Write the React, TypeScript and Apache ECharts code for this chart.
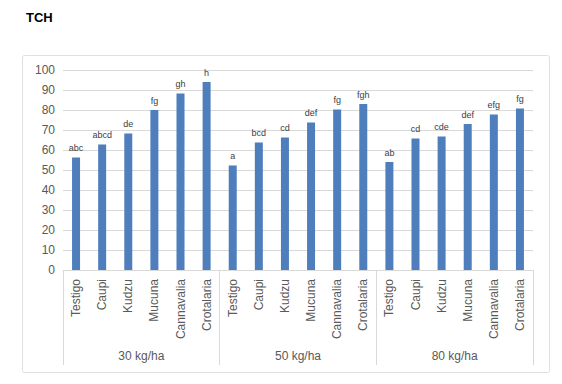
import React, { useEffect, useRef } from "react";
import * as echarts from "echarts";

const treatments = ["Testigo", "Caupi", "Kudzu", "Mucuna", "Cannavalia", "Crotalaria"];
const doses = ["30 kg/ha", "50 kg/ha", "80 kg/ha"];
const values30 = [56.2, 62.8, 68.2, 80, 88.3, 94];
const values50 = [52.2, 63.8, 66.2, 73.8, 80.2, 83];
const values80 = [54, 65.8, 66.7, 73, 77.8, 80.8];
const letters30 = ["abc", "abcd", "de", "fg", "gh", "h"];
const letters50 = ["a", "bcd", "cd", "def", "fg", "fgh"];
const letters80 = ["ab", "cd", "cde", "def", "efg", "fg"];
const yTicks = { min: 0, max: 100, interval: 10 };

export default function App() {
  const ref = useRef<HTMLDivElement>(null);
  useEffect(() => {
    if (!ref.current) return;
    const chart = echarts.init(ref.current, null, { renderer: "svg" });
    const categories = [...treatments, ...treatments, ...treatments];
    const values = [...values30, ...values50, ...values80];
    const letters = [...letters30, ...letters50, ...letters80];
    const font = "Liberation Sans, Arial, sans-serif";
    chart.setOption({
      animation: false,
      backgroundColor: "#ffffff",
      textStyle: { fontFamily: font },
      title: {
        text: "TCH",
        left: 21,
        top: 6,
        textStyle: { fontSize: 13, fontWeight: "bold", color: "#000000", fontFamily: font },
      },
      graphic: [
        {
          type: "rect",
          shape: { x: 22.5, y: 55.5, width: 527, height: 317, r: 2 },
          style: { fill: "none", stroke: "#e0e0e0", lineWidth: 1 },
          silent: true,
        },
      ],
      grid: { left: 63, right: 29, top: 70, bottom: 114 },
      xAxis: [
        {
          type: "category",
          data: categories,
          axisLine: { show: true, lineStyle: { color: "#d9d9d9" } },
          axisTick: { show: false },
          axisLabel: {
            interval: 0,
            rotate: 90,
            fontSize: 12,
            color: "#595959",
            margin: 9,
          },
        },
        {
          type: "category",
          data: doses,
          position: "bottom",
          axisLine: { show: false },
          axisTick: { show: true, length: 95, lineStyle: { color: "#d9d9d9" } },
          axisLabel: { fontSize: 12, color: "#595959", margin: 80 },
          splitLine: { show: false },
        },
      ],
      yAxis: {
        type: "value",
        min: yTicks.min,
        max: yTicks.max,
        interval: yTicks.interval,
        axisLine: { show: false },
        axisTick: { show: false },
        axisLabel: { fontSize: 12, color: "#595959", margin: 8 },
        splitLine: { lineStyle: { color: "#d9d9d9" } },
      },
      series: [
        {
          type: "bar",
          xAxisIndex: 0,
          data: values,
          barWidth: 8,
          itemStyle: { color: "#4f7ebd" },
          label: {
            show: true,
            position: "top",
            distance: 5,
            fontSize: 9,
            color: "#404040",
            formatter: (p: any) => letters[p.dataIndex],
          },
        },
      ],
    });
    return () => chart.dispose();
  }, []);
  return (
    <div
      ref={ref}
      style={{ position: "fixed", left: 0, top: 0, width: 562, height: 384 }}
    />
  );
}
